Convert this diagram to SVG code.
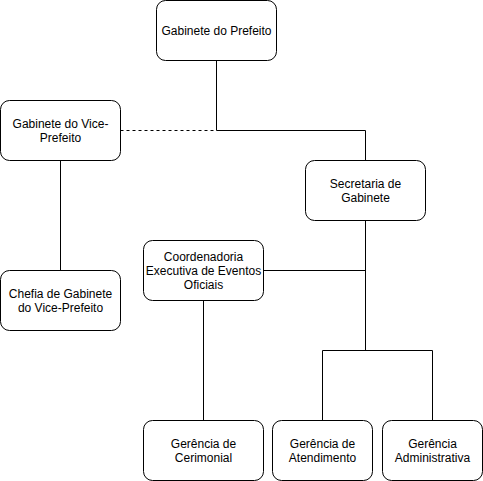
<svg xmlns="http://www.w3.org/2000/svg" width="483" height="481" viewBox="0 0 483 481">
<style>
.box{fill:#fff;stroke:#000;stroke-width:1}
.lbl{font-family:"Liberation Sans",Arial,sans-serif;font-size:12px;fill:#000;text-anchor:middle}
.edge{fill:none;stroke:#000;stroke-width:1}
.dash{stroke-dasharray:3 3}
</style>
<rect width="483" height="481" fill="#fff"/>
<g id="connectors">
<path class="edge" d="M216.5 60.5 V130.5 H365.5 V160.5"/>
<path class="edge dash" d="M120.5 130.5 H216.5"/>
<path class="edge" d="M60.5 160.5 V270.5"/>
<path class="edge" d="M365.5 220.5 V350.5"/>
<path class="edge" d="M263.5 270.5 H365.5"/>
<path class="edge" d="M203.5 300.5 V420.5"/>
<path class="edge" d="M322.5 420.5 V350.5 H432.5 V420.5"/>
</g>
<g id="n-prefeito">
<rect class="box" x="156.5" y="0.5" width="120" height="60" rx="9"/>
<text class="lbl" x="216.5" y="35">Gabinete do Prefeito</text>
</g>
<g id="n-vice">
<rect class="box" x="0.5" y="100.5" width="120" height="60" rx="9"/>
<text class="lbl" x="60.5" y="127.5">Gabinete do Vice-</text>
<text class="lbl" x="60.5" y="141.5">Prefeito</text>
</g>
<g id="n-secretaria">
<rect class="box" x="305.5" y="160.5" width="120" height="60" rx="9"/>
<text class="lbl" x="365.5" y="187.5">Secretaria de</text>
<text class="lbl" x="365.5" y="201.5">Gabinete</text>
</g>
<g id="n-chefia">
<rect class="box" x="0.5" y="270.5" width="120" height="60" rx="9"/>
<text class="lbl" x="60.5" y="297.5">Chefia de Gabinete</text>
<text class="lbl" x="60.5" y="311.5">do Vice-Prefeito</text>
</g>
<g id="n-coordenadoria">
<rect class="box" x="143.5" y="240.5" width="120" height="60" rx="9"/>
<text class="lbl" x="203.5" y="261">Coordenadoria</text>
<text class="lbl" x="203.5" y="275">Executiva de Eventos</text>
<text class="lbl" x="203.5" y="289">Oficiais</text>
</g>
<g id="n-cerimonial">
<rect class="box" x="143.5" y="420.5" width="120" height="60" rx="9"/>
<text class="lbl" x="203.5" y="447.5">Gerência de</text>
<text class="lbl" x="203.5" y="461.5">Cerimonial</text>
</g>
<g id="n-atendimento">
<rect class="box" x="272.5" y="420.5" width="100" height="60" rx="9"/>
<text class="lbl" x="322.5" y="447.5">Gerência de</text>
<text class="lbl" x="322.5" y="461.5">Atendimento</text>
</g>
<g id="n-administrativa">
<rect class="box" x="382.5" y="420.5" width="100" height="60" rx="9"/>
<text class="lbl" x="432.5" y="447.5">Gerência</text>
<text class="lbl" x="432.5" y="461.5">Administrativa</text>
</g>
</svg>
